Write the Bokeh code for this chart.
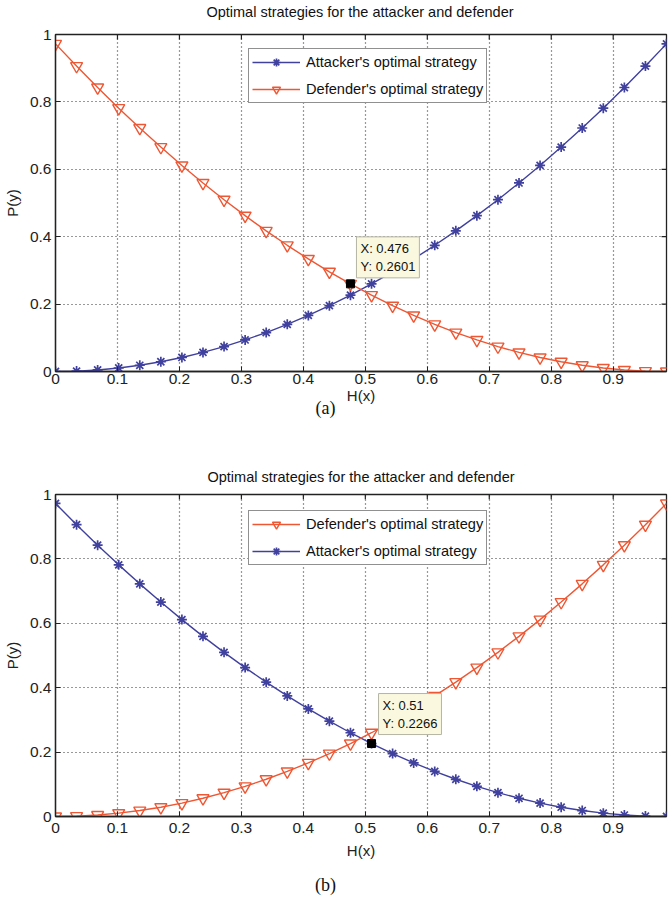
from bokeh.plotting import figure
from bokeh.models import (Range1d, Label, Legend, LegendItem, FixedTicker,
                          Title, Div)
from bokeh.layouts import column
from bokeh.embed import file_html
from bokeh.resources import INLINE

# ---------------- data ----------------
h_x = [0.000, 0.034, 0.068, 0.102, 0.136, 0.170, 0.204, 0.238, 0.272, 0.306,
       0.340, 0.374, 0.408, 0.442, 0.476, 0.510, 0.544, 0.578, 0.612, 0.646,
       0.680, 0.714, 0.748, 0.782, 0.816, 0.850, 0.884, 0.918, 0.952, 0.986]
rising = [0.0000, 0.0012, 0.0046, 0.0104, 0.0185, 0.0289, 0.0416, 0.0566, 0.0740, 0.0936,
          0.1156, 0.1399, 0.1665, 0.1954, 0.2266, 0.2601, 0.2959, 0.3341, 0.3745, 0.4173,
          0.4624, 0.5098, 0.5595, 0.6115, 0.6659, 0.7225, 0.7815, 0.8427, 0.9063, 0.9722]
falling = [0.9722, 0.9063, 0.8427, 0.7815, 0.7225, 0.6659, 0.6115, 0.5595, 0.5098, 0.4624,
           0.4173, 0.3745, 0.3341, 0.2959, 0.2601, 0.2266, 0.1954, 0.1665, 0.1399, 0.1156,
           0.0936, 0.0740, 0.0566, 0.0416, 0.0289, 0.0185, 0.0104, 0.0046, 0.0012, 0.0000]

attacker_a = rising
defender_a = falling
attacker_b = falling
defender_b = rising

tip_a = (0.476, 0.2601)
tip_b = (0.51, 0.2266)

x_ticks = [0.0, 0.1, 0.2, 0.3, 0.4, 0.5, 0.6, 0.7, 0.8, 0.9]
x_tick_labels = ["0", "0.1", "0.2", "0.3", "0.4", "0.5", "0.6", "0.7", "0.8", "0.9"]
y_ticks = [0.0, 0.2, 0.4, 0.6, 0.8, 1.0]
y_tick_labels = ["0", "0.2", "0.4", "0.6", "0.8", "1"]
x_max = 0.986

title_text = "Optimal strategies for the attacker and defender"
att_label = "Attacker's optimal strategy"
def_label = "Defender's optimal strategy"

# ---------------- style ----------------
FONT = "Liberation Sans"
BLUE = "#40409f"
RED = "#ee5733"
AX = "#222222"


def make_plot(height, top, bottom, att, dfn, tip, tip_off, order,
              legend_loc, title, title_standoff, tick_standoff,
              xlabel_standoff):
    p = figure(width=668, height=height, output_backend="svg",
               toolbar_location=None, x_range=Range1d(0, x_max),
               y_range=Range1d(0, 1),
               min_border_top=top, min_border_bottom=bottom,
               min_border_left=55, min_border_right=2)
    p.title.text = title
    p.title.align = "center"
    p.title.text_font = FONT
    p.title.text_font_size = "14.5px"
    p.title.text_font_style = "normal"
    p.title.text_color = "#111111"
    p.title.standoff = title_standoff

    p.background_fill_color = "white"
    p.border_fill_color = "white"
    p.outline_line_color = AX
    p.outline_line_width = 1.3

    for ax in (p.xaxis[0], p.yaxis[0]):
        ax.major_tick_in = 5
        ax.major_tick_out = 0
        ax.minor_tick_in = 0
        ax.minor_tick_out = 0
        ax.axis_line_color = AX
        ax.axis_line_width = 1.3
        ax.major_tick_line_color = AX
        ax.major_label_text_font = FONT
        ax.major_label_text_font_size = "15.5px"
        ax.major_label_text_color = AX
        ax.axis_label_text_font = FONT
        ax.axis_label_text_font_size = "15px"
        ax.axis_label_text_font_style = "normal"
        ax.axis_label_text_color = AX

    p.xaxis[0].ticker = FixedTicker(ticks=x_ticks)
    p.xaxis[0].major_label_overrides = dict(zip(x_ticks, x_tick_labels))
    p.xaxis[0].major_label_standoff = tick_standoff
    p.xaxis[0].axis_label = "H(x)"
    p.xaxis[0].axis_label_standoff = xlabel_standoff
    p.yaxis[0].ticker = FixedTicker(ticks=y_ticks)
    p.yaxis[0].major_label_overrides = dict(zip(y_ticks, y_tick_labels))
    p.yaxis[0].major_label_standoff = 4
    p.yaxis[0].axis_label = "P(y)"
    p.yaxis[0].axis_label_standoff = 6

    p.xgrid.ticker = FixedTicker(ticks=x_ticks)
    p.ygrid.ticker = FixedTicker(ticks=y_ticks)
    for g in (p.xgrid[0], p.ygrid[0]):
        g.grid_line_color = "#333333"
        g.grid_line_dash = "1 3"
        g.grid_line_width = 1.2

    # inward ticks on the top and right edges of the box (from tick arrays)
    tlen_y = 0.015
    tlen_x = 0.008
    p.segment(x0=x_ticks[1:], y0=[1.0] * (len(x_ticks) - 1),
              x1=x_ticks[1:], y1=[1.0 - tlen_y] * (len(x_ticks) - 1),
              line_color=AX, line_width=1.2)
    p.segment(x0=[x_max] * (len(y_ticks) - 2), y0=y_ticks[1:-1],
              x1=[x_max - tlen_x] * (len(y_ticks) - 2), y1=y_ticks[1:-1],
              line_color=AX, line_width=1.2)

    # series
    la = p.line(h_x, att, line_color=BLUE, line_width=1.4)
    sa = p.scatter(h_x, att, marker="asterisk", size=10, line_color=BLUE,
                   line_width=1.7)
    ld = p.line(h_x, dfn, line_color=RED, line_width=1.4)
    sd = p.scatter(h_x, dfn, marker="inverted_triangle", size=12,
                   fill_color=None, line_color=RED, line_width=1.4)

    items = {"att": LegendItem(label=att_label, renderers=[la, sa]),
             "def": LegendItem(label=def_label, renderers=[ld, sd])}
    legend = Legend(items=[items[k] for k in order], location=legend_loc,
                    label_text_font=FONT, label_text_font_size="14.6px",
                    label_text_color="#111111",
                    border_line_color=AX, border_line_width=1.3,
                    background_fill_alpha=1.0, padding=3, spacing=7,
                    glyph_width=48, glyph_height=20, label_height=20,
                    label_standoff=6, margin=0)
    p.add_layout(legend, "center")

    # data tip
    p.scatter([tip[0]], [tip[1]], marker="square", size=8, fill_color="black",
              line_color="black")
    p.add_layout(Label(x=tip[0], y=tip[1], x_offset=tip_off[0],
                       y_offset=tip_off[1], anchor="bottom_left",
                       text="X: %s\nY: %s" % (tip[0], tip[1]),
                       text_font=FONT, text_font_size="13px",
                       text_color="#111111",
                       background_fill_color="#fbf8e0",
                       border_line_color="#b5b5a5", padding=4))
    return p


# title of (a) as a thin text strip above the first figure
title_a = Div(text='<div style="width:616px; margin-left:52px; text-align:center;'
                   ' font-family:\'Liberation Sans\'; font-size:14.5px;'
                   ' line-height:24px; color:#111111">%s</div>' % title_text,
              width=668, height=24, margin=0)

pa = make_plot(416, 10, 69, attacker_a, defender_a, tip_a, (6, 6),
               ["att", "def"], (193, 268), "", 0, 2, 0)
# caption (a), tucked right under the axis title
pa.add_layout(Title(text="(a)", align="left", offset=260,
                    text_font="Liberation Serif", text_font_size="18px",
                    text_font_style="normal", text_color="#111111",
                    standoff=-22), "below")

pb = make_plot(434, 54, 58, attacker_b, defender_b, tip_b, (7, 9),
               ["def", "att"], (193, 251), title_text, 20, 6, 6)

cap_b = Div(text="(b)", width=668, height=25, margin=0,
            styles={"font-family": "Liberation Serif", "font-size": "18px",
                    "line-height": "22px", "color": "#111111",
                    "padding-left": "315px"})

layout = column(title_a, pa, pb, cap_b, spacing=0)
open("out.html", "w").write(file_html(layout, INLINE))
